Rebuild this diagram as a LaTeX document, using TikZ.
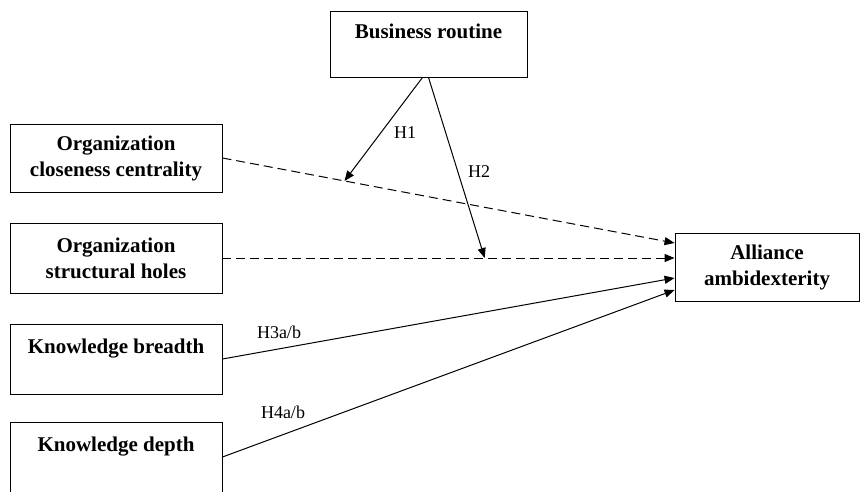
\documentclass[tikz,border=0pt]{standalone}
\usepackage{fontspec}
\setmainfont{Liberation Serif}
\usetikzlibrary{arrows.meta}

\tikzset{
  varbox/.style={draw, line width=0.9pt, align=center, inner sep=0pt,
    font=\bfseries\fontsize{21}{26}\selectfont},
  hyplbl/.style={inner sep=0pt, font=\fontsize{18}{22}\selectfont},
  solarr/.style={line width=1pt, -{Triangle[length=10pt,width=8pt]}},
  dasharr/.style={solarr, dash pattern=on 9pt off 5pt}
}

\begin{document}
\begin{tikzpicture}[x=1pt,y=-1pt]
    \useasboundingbox (0,0) rectangle (862,491);

    % Variablen
    \node[varbox, minimum width=197pt, minimum height=66pt] (brout) at (428.5,44) {Business routine\\~};
    \node[varbox, minimum width=212pt, minimum height=68pt] (close) at (116,158) {Organization\\closeness centrality};
    \node[varbox, minimum width=212pt, minimum height=70pt] (holes) at (116,258) {Organization\\structural holes};
    \node[varbox, minimum width=212pt, minimum height=70pt] (kbreadth) at (116,359) {Knowledge breadth\\~};
    \node[varbox, minimum width=212pt, minimum height=70pt] (kdepth) at (116,457) {Knowledge depth\\~};
    \node[varbox, minimum width=184pt, minimum height=68pt] (ally) at (767,267) {Alliance\\ambidexterity};

    % Pfeile zur Ambidextrie
    \draw[dasharr] (close.east) -- coordinate[pos=0.27] (m1) ([yshift=24pt]ally.west);
    \draw[dasharr] (holes.east) -- coordinate[pos=0.58] (m2) ([yshift=9pt]ally.west);
    \draw[solarr] (kbreadth.east) -- ([yshift=-11pt]ally.west);
    \draw[solarr] (kdepth.east) -- ([yshift=-23pt]ally.west);

    % Moderation
    \draw[solarr] ([xshift=-6pt]brout.south) -- (m1);
    \draw[solarr] (brout.south) -- (m2);

    % Hypothesen
    \node[hyplbl] (h1) at (405,133) {H1};
    \node[hyplbl] (h2) at (479,172) {H2};
    \node[hyplbl] (h3) at (279,332) {H3a/b};
    \node[hyplbl] (h4) at (283,412) {H4a/b};
\end{tikzpicture}
\end{document}
